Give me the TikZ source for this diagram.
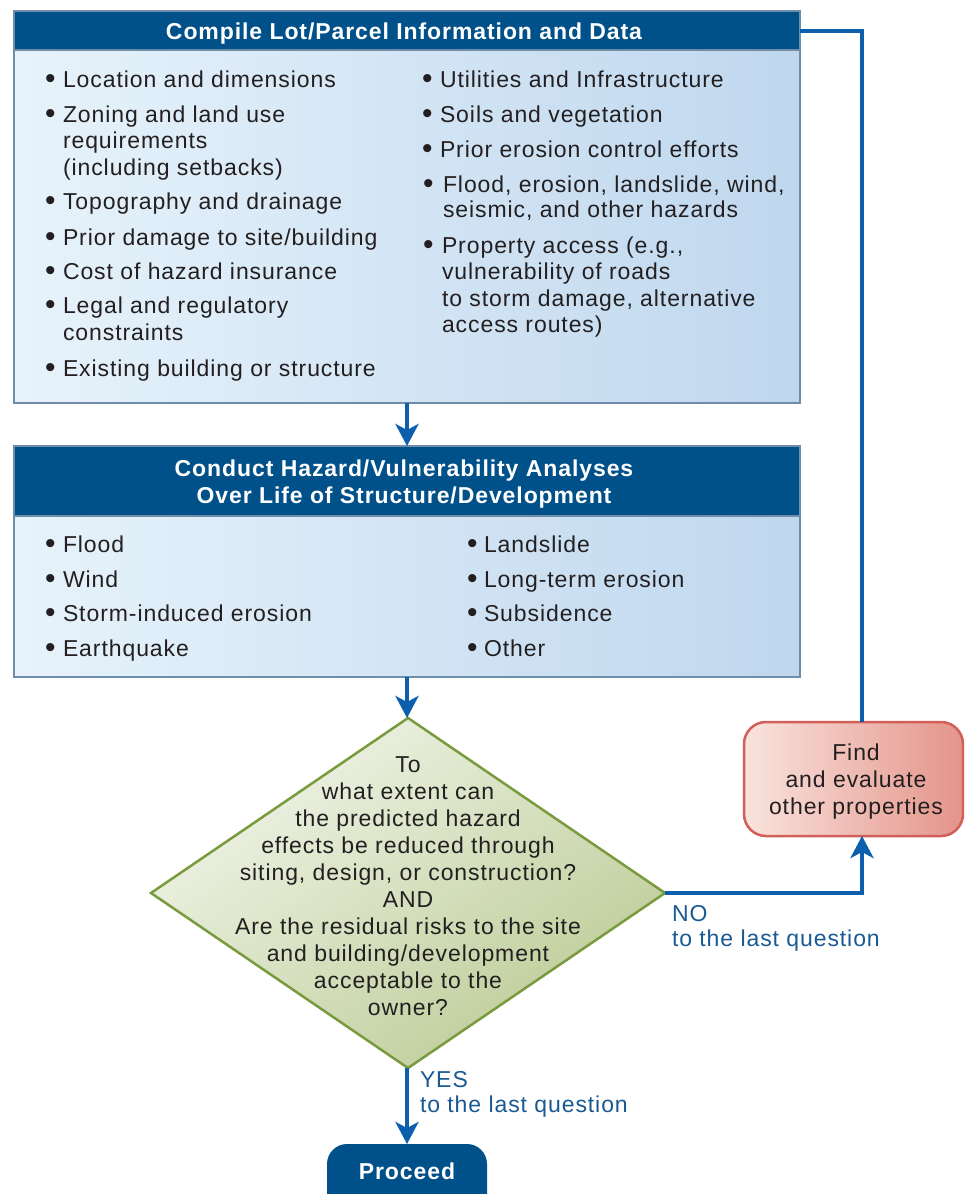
\documentclass[tikz,border=0pt]{standalone}
\usepackage{fontspec}
\setmainfont{Liberation Sans}[LetterSpace=4]
\usetikzlibrary{shapes.geometric,arrows.meta}
\definecolor{hdrblue}{HTML}{00508A}
\definecolor{lineblue}{HTML}{0B5FAD}
\definecolor{boxedge}{HTML}{6F8CA8}
\definecolor{bodyL}{HTML}{E7F3FB}
\definecolor{bodyR}{HTML}{BFD7EE}
\definecolor{ink}{HTML}{231F20}
\definecolor{lblblue}{HTML}{1A5A93}
\definecolor{diaL}{HTML}{F0F4E8}
\definecolor{diaD}{HTML}{BCCC96}
\definecolor{diaedge}{HTML}{7A9A3E}
\definecolor{findL}{HTML}{F9E4DE}
\definecolor{findR}{HTML}{E4948A}
\definecolor{findedge}{HTML}{D35F5A}
\newcommand{\dgfont}{\fontsize{23pt}{27pt}\selectfont}
\newcommand{\bul}{\raisebox{-1.8pt}{\scalebox{1.3}{\textbullet}}}
\tikzset{
  conn/.style={draw=lineblue, line width=4pt},
  tip/.style={-{Stealth[length=22pt,width=23pt,inset=6pt]}},
  hdr/.style={draw=boxedge, line width=2pt, fill=hdrblue, inner sep=0pt, outer sep=0pt, anchor=north west, minimum width=786pt},
  bodybox/.style={draw=boxedge, line width=2pt, left color=bodyL, right color=bodyR, inner sep=0pt, outer sep=0pt, anchor=north west, minimum width=786pt},
  txt/.style={anchor=base west, inner sep=0pt, outer sep=0pt, text=ink, font=\dgfont},
  ctxt/.style={anchor=base, inner sep=0pt, outer sep=0pt, text=ink, font=\dgfont},
  htxt/.style={anchor=base, inner sep=0pt, outer sep=0pt, text=white, font=\dgfont\bfseries},
  lbl/.style={anchor=base west, inner sep=0pt, outer sep=0pt, text=lblblue, font=\dgfont},
  decision/.style={shape=diamond, draw=diaedge, line width=2.5pt, top color=diaL, bottom color=diaD, shading angle=35, minimum width=514pt, minimum height=350pt, inner sep=0pt, outer sep=0pt},
  findbox/.style={draw=findedge, line width=2.5pt, rounded corners=22pt, left color=findL, right color=findR, anchor=north west, minimum width=219pt, minimum height=114pt, inner sep=0pt, outer sep=0pt},
  procbox/.style={fill=hdrblue, rounded corners=20pt, anchor=north west, minimum width=160pt, minimum height=80pt, inner sep=0pt, outer sep=0pt},
}
\begin{document}
\begin{tikzpicture}[x=1pt,y=-1pt]
\useasboundingbox (0,0) rectangle (964,1194);
\fill[white] (0,0) rectangle (964,1194);
\clip (0,0) rectangle (964,1194);

% ---------- Box 1 ----------
\node[hdr, minimum height=39pt] (h1) at (14,11) {};
\node[bodybox, minimum height=353pt] (b1) at (14,50) {};
\node[htxt] (h1t) at (404,39) {Compile Lot/Parcel Information and Data};

\node[txt] (l1b) at (45,87) {\bul};
\node[txt] (l1) at (63,87) {Location and dimensions};
\node[txt] (l2b) at (45,122) {\bul};
\node[txt] (l2) at (63,122) {Zoning and land use};
\node[txt] (l2x) at (63,148) {requirements};
\node[txt] (l2y) at (63,175) {(including setbacks)};
\node[txt] (l3b) at (45,209) {\bul};
\node[txt] (l3) at (63,209) {Topography and drainage};
\node[txt] (l4b) at (45,245) {\bul};
\node[txt] (l4) at (63,245) {Prior damage to site/building};
\node[txt] (l5b) at (45,279) {\bul};
\node[txt] (l5) at (63,279) {Cost of hazard insurance};
\node[txt] (l6b) at (45,313) {\bul};
\node[txt] (l6) at (63,313) {Legal and regulatory};
\node[txt] (l6x) at (63,340) {constraints};
\node[txt] (l7b) at (45,376) {\bul};
\node[txt] (l7) at (63,376) {Existing building or structure};

\node[txt] (r1b) at (422,87) {\bul};
\node[txt] (r1) at (440,87) {Utilities and Infrastructure};
\node[txt] (r2b) at (422,122) {\bul};
\node[txt] (r2) at (440,122) {Soils and vegetation};
\node[txt] (r3b) at (422,157) {\bul};
\node[txt] (r3) at (440,157) {Prior erosion control efforts};
\node[txt] (r4b) at (423,192) {\bul};
\node[txt] (r4) at (443,192) {Flood, erosion, landslide, wind,};
\node[txt] (r4x) at (443,217) {seismic, and other hazards};
\node[txt] (r5b) at (423,253) {\bul};
\node[txt] (r5) at (442,253) {Property access (e.g.,};
\node[txt] (r5x) at (442,279) {vulnerability of roads};
\node[txt] (r5y) at (442,306) {to storm damage, alternative};
\node[txt] (r5z) at (442,332) {access routes)};

% ---------- Box 2 ----------
\node[hdr, minimum height=70pt] (h2) at (14,446) {};
\node[bodybox, minimum height=161pt] (b2) at (14,516) {};
\node[htxt] (h2t1) at (404,476) {Conduct Hazard/Vulnerability Analyses};
\node[htxt] (h2t2) at (404,503) {Over Life of Structure/Development};

\node[txt] (m1b) at (45,552) {\bul};
\node[txt] (m1) at (63,552) {Flood};
\node[txt] (m2b) at (45,587) {\bul};
\node[txt] (m2) at (63,587) {Wind};
\node[txt] (m3b) at (45,621) {\bul};
\node[txt] (m3) at (63,621) {Storm-induced erosion};
\node[txt] (m4b) at (45,656) {\bul};
\node[txt] (m4) at (63,656) {Earthquake};
\node[txt] (n1b) at (467,552) {\bul};
\node[txt] (n1) at (484,552) {Landslide};
\node[txt] (n2b) at (467,587) {\bul};
\node[txt] (n2) at (484,587) {Long-term erosion};
\node[txt] (n3b) at (467,621) {\bul};
\node[txt] (n3) at (484,621) {Subsidence};
\node[txt] (n4b) at (467,656) {\bul};
\node[txt] (n4) at (484,656) {Other};

% ---------- Decision ----------
\node[decision] (dia) at (408,893) {};
\foreach \t [count=\i from 0] in {To, what extent can, the predicted hazard, effects be reduced through, {siting, design, or construction?}, AND, Are the residual risks to the site, and building/development, acceptable to the, owner?}
  \node[ctxt] (q\i) at (408,772+27*\i) {\t};

% ---------- Find box ----------
\node[findbox] (find) at (744,722) {};
\node[ctxt] (f1) at (856,760) {Find};
\node[ctxt] (f2) at (856,787) {and evaluate};
\node[ctxt] (f3) at (856,814) {other properties};

% ---------- Proceed ----------
\node[procbox] (proc) at (327,1144) {};
\node[htxt] (proct) at (407,1179) {Proceed};

% ---------- Connectors ----------
\draw[conn,tip] (b1.south) -- (h2.north);
\draw[conn,tip] (b2.south) -- (b2.south |- dia.north);
\draw[conn,tip] (dia.south -| proc.north) -- (proc.north);
\draw[conn,tip] (dia.east) -| ([xshift=8.5pt]find.south);
\draw[conn] ([xshift=8.5pt]find.north) |- (h1.east);

% ---------- Labels ----------
\node[lbl] (no1) at (672,921) {NO};
\node[lbl] (no2) at (672,946) {to the last question};
\node[lbl] (yes1) at (420,1087) {YES};
\node[lbl] (yes2) at (420,1112) {to the last question};
\end{tikzpicture}
\end{document}
